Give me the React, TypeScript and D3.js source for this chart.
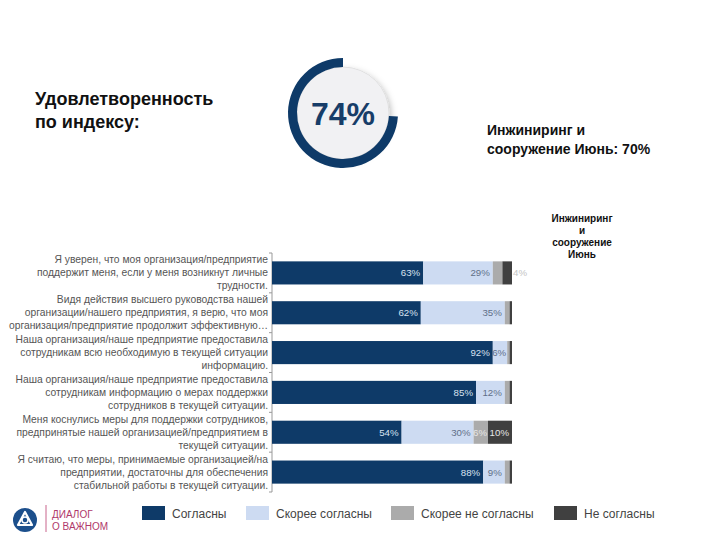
import React from 'react';
import * as d3 from 'd3';

// categories (already split into lines as on the slide)
const questions = [
  ['Я уверен, что моя организация/предприятие', 'поддержит меня, если у меня возникнут личные', 'трудности.'],
  ['Видя действия высшего руководства нашей', 'организации/нашего предприятия, я верю, что моя', 'организация/предприятие продолжит эффективную…'],
  ['Наша организация/наше предприятие предоставила', 'сотрудникам всю необходимую в текущей ситуации', 'информацию.'],
  ['Наша организация/наше предприятие предоставила', 'сотрудникам информацию о мерах поддержки', 'сотрудников в текущей ситуации.'],
  ['Меня коснулись меры для поддержки сотрудников,', 'предпринятые нашей организацией/предприятием в', 'текущей ситуации.'],
  ['Я считаю, что меры, принимаемые организацией/на', 'предприятии, достаточны для обеспечения', 'стабильной работы в текущей ситуации.'],
];

const seriesNames = ['Согласны', 'Скорее согласны', 'Скорее не согласны', 'Не согласны'];
const agree = [63, 62, 92, 85, 54, 88];
const ratherAgree = [29, 35, 6, 12, 30, 9];
const ratherDisagree = [4, 2, 1, 2, 6, 2];
const disagree = [4, 1, 1, 1, 10, 1];
// which segment labels are printed on the slide
const showLabel = [
  [true, true, false, true],
  [true, true, false, false],
  [true, true, false, false],
  [true, true, false, false],
  [true, true, true, true],
  [true, true, false, false],
];

const indexValue = 74;
const indexTitle = ['Удовлетворенность', 'по индексу:'];
const compareText = ['Инжиниринг и', 'сооружение Июнь: 70%'];
const columnHeader = ['Инжиниринг', 'и', 'сооружение', 'Июнь'];

const colors = ['#0e3a68', '#cddbf2', '#ababab', '#404040'];
const labelColors = ['#d8e2f0', '#5f6f88', '#e6e6e6', '#e6e6e6'];

const font = 'Liberation Sans, Arial, sans-serif';

export default function App() {
  const width = 720;
  const height = 540;

  const x0 = 272;
  const x = d3.scaleLinear().domain([0, 100]).range([x0, 512]);
  const y = d3
    .scaleBand<number>()
    .domain(d3.range(questions.length))
    .range([253, 492])
    .paddingInner(0.42)
    .paddingOuter(0.21);

  const rows = questions.map((_, i) => ({
    i,
    vals: [agree[i], ratherAgree[i], ratherDisagree[i], disagree[i]],
  }));
  const stack = d3.stack<any>().keys([0, 1, 2, 3] as any).value((d, k) => d.vals[k as any]);
  const series = stack(rows);

  // donut
  const cx = 343;
  const cy = 113;
  const ring = d3
    .arc()
    .innerRadius(46)
    .outerRadius(55)
    .startAngle((1 - indexValue / 100) * 2 * Math.PI)
    .endAngle(2 * Math.PI);

  const legendX = [142, 246, 391, 554];

  return (
    <svg width={width} height={height} style={{ display: 'block', margin: -8 }} fontFamily={font}>
      <defs>
        <filter id="shadow" x="-30%" y="-30%" width="160%" height="160%">
          <feDropShadow dx="2" dy="3" stdDeviation="3" floodColor="#000" floodOpacity="0.25" />
        </filter>
      </defs>

      {/* title */}
      <text x={35} y={105} fontSize={18} fontWeight="bold" fill="#111">
        {indexTitle.map((t, i) => (
          <tspan key={i} x={35} dy={i === 0 ? 0 : 23}>{t}</tspan>
        ))}
      </text>

      {/* donut */}
      <g transform={`translate(${cx},${cy})`}>
        <circle r={46} fill="#f1f1f3" stroke="#d8d8d8" strokeWidth={0.7} filter="url(#shadow)" />
        <path d={ring(null as any) || ''} fill={colors[0]} />
        <text y={12} textAnchor="middle" fontSize={32} fontWeight="bold" fill="#173d68">
          {indexValue}%
        </text>
      </g>

      {/* comparison */}
      <text x={487} y={135} fontSize={14} fontWeight="bold" fill="#111">
        {compareText.map((t, i) => (
          <tspan key={i} x={487} dy={i === 0 ? 0 : 19}>{t}</tspan>
        ))}
      </text>
      <text x={582} y={222} fontSize={10} fontWeight="bold" fill="#111" textAnchor="middle">
        {columnHeader.map((t, i) => (
          <tspan key={i} x={582} dy={i === 0 ? 0 : 12}>{t}</tspan>
        ))}
      </text>

      {/* category labels */}
      {questions.map((lines, i) => {
        const c = (y(i) as number) + y.bandwidth() / 2;
        return (
          <text key={i} x={268} y={c - 13 + 3.5} fontSize={10.3} fill="#555" textAnchor="end">
            {lines.map((t, j) => (
              <tspan key={j} x={268} dy={j === 0 ? 0 : 13}>{t}</tspan>
            ))}
          </text>
        );
      })}

      {/* axis */}
      <line x1={x0} x2={x0} y1={253} y2={492} stroke="#999" strokeWidth={1} />
      {d3.range(questions.length + 1).map((k) => {
        const yy = 253 + k * y.step();
        return <line key={k} x1={x0 - 3} x2={x0} y1={yy} y2={yy} stroke="#999" />;
      })}

      {/* bars */}
      {series.map((s, k) => (
        <g key={k}>
          {s.map((d, i) => {
            const by = y(i) as number;
            const x1 = x(d[0]);
            const x2 = x(d[1]);
            const w = x2 - x1;
            return (
              <g key={i}>
                <rect x={x1} y={by} width={w} height={y.bandwidth()} fill={colors[k]} />
                {showLabel[i][k] && (
                  <text
                    x={w < 12 ? x2 + 1 : w < 20 ? x2 - 1 : x2 - 3}
                    y={by + y.bandwidth() / 2 + 3.5}
                    fontSize={9.7}
                    textAnchor={w < 12 ? 'start' : 'end'}
                    fill={w < 12 ? '#c4c4c4' : labelColors[k]}
                  >
                    {rows[i].vals[k]}%
                  </text>
                )}
              </g>
            );
          })}
        </g>
      ))}

      {/* legend */}
      {seriesNames.map((n, k) => (
        <g key={n} transform={`translate(${legendX[k]},506)`}>
          <rect width={23} height={14} fill={colors[k]} />
          <text x={30} y={11.5} fontSize={12} fill="#444">{n}</text>
        </g>
      ))}

      {/* logo */}
      <g transform="translate(25,520)">
        <circle r={12} fill="#1c4f8c" />
        <path d="M0,-8 L7,5 L-7,5 Z" fill="none" stroke="#fff" strokeWidth={2.2} strokeLinejoin="round" />
        <circle r={3} fill="#1c4f8c" stroke="#fff" strokeWidth={1.5} />
      </g>
      <line x1={46} x2={46} y1={505} y2={536} stroke="#c8648c" strokeWidth={1} />
      <text x={52} y={518} fontSize={10} fill="#b0386a">ДИАЛОГ</text>
      <text x={52} y={530} fontSize={10} fill="#b0386a">О ВАЖНОМ</text>
    </svg>
  );
}
